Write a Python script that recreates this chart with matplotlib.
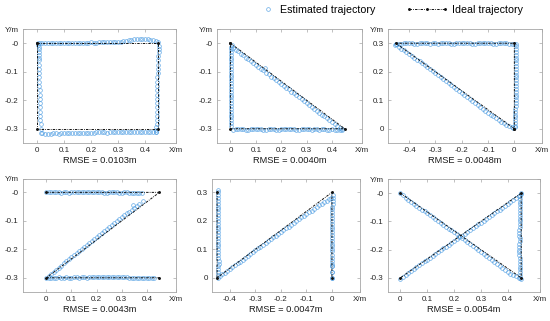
import matplotlib.pyplot as plt
from matplotlib.legend_handler import HandlerLine2D

plt.rcParams["font.family"] = ["Liberation Sans", "DejaVu Sans"]
plt.rcParams["axes.unicode_minus"] = False

# ---- ideal paths (corner points) ----
ideal1_x = [0, 0.45, 0.45, 0, 0]
ideal1_y = [0, 0, -0.3, -0.3, 0]
ideal2_x = [0, 0.45, 0, 0]
ideal2_y = [0, -0.3, -0.3, 0]
ideal3_x = [0, -0.45, 0, 0]
ideal3_y = [0, 0.3, 0.3, 0]
ideal4_x = [0, 0.45, 0, 0.45]
ideal4_y = [0, 0, -0.3, -0.3]
ideal5_x = [-0.45, -0.45, 0, 0]
ideal5_y = [0.3, 0, 0.3, 0]
ideal6_x = [0, 0.45, 0.45, 0]
ideal6_y = [0, -0.3, 0, -0.3]

# ---- estimated trajectories, first pass ----
est1_x = [0.01, 0.03, 0.05, 0.07, 0.09, 0.11, 0.13, 0.15, 0.17, 0.19, 0.21, 0.23, 0.25, 0.27,
          0.29, 0.31, 0.33, 0.35, 0.37, 0.39, 0.41, 0.43, 0.45,
          0.452, 0.451, 0.449, 0.447, 0.446, 0.445, 0.445, 0.444, 0.443, 0.443, 0.442, 0.442,
          0.43, 0.41, 0.39, 0.37, 0.35, 0.33, 0.31, 0.29, 0.27, 0.25, 0.23, 0.21, 0.19, 0.17,
          0.15, 0.13, 0.11, 0.09, 0.07, 0.05, 0.03, 0.015,
          0.013, 0.012, 0.011, 0.010, 0.010, 0.009, 0.009, 0.008, 0.008, 0.007, 0.006, 0.005]
est1_y = [0.0, 0.001, 0.001, 0.002, 0.001, 0.002, 0.001, 0.0, 0.001, 0.002, 0.002, 0.003, 0.004, 0.004,
          0.005, 0.006, 0.009, 0.013, 0.015, 0.016, 0.014, 0.010, 0.004,
          -0.01, -0.03, -0.06, -0.09, -0.12, -0.15, -0.18, -0.21, -0.24, -0.27, -0.295, -0.31,
          -0.311, -0.312, -0.313, -0.312, -0.311, -0.312, -0.312, -0.313, -0.313, -0.313, -0.312, -0.314,
          -0.314, -0.315, -0.315, -0.315, -0.316, -0.316, -0.316, -0.317, -0.317, -0.316,
          -0.3, -0.27, -0.24, -0.21, -0.18, -0.15, -0.12, -0.09, -0.06, -0.04, -0.02, -0.005]

est2_x = [0.005, 0.02, 0.04, 0.06, 0.08, 0.10, 0.12, 0.135, 0.14, 0.16, 0.18, 0.20, 0.22, 0.24,
          0.26, 0.28, 0.30, 0.32, 0.34, 0.36, 0.38, 0.40, 0.42, 0.44,
          0.43, 0.41, 0.39, 0.37, 0.35, 0.33, 0.31, 0.29, 0.27, 0.25, 0.23, 0.21, 0.19, 0.17,
          0.15, 0.13, 0.11, 0.09, 0.07, 0.05, 0.03, 0.01,
          0.003, 0.003, 0.003, 0.002, 0.003, 0.003, 0.002, 0.003, 0.003, 0.002, 0.003, 0.003,
          0.002, 0.003, 0.003]
est2_y = [-0.006, -0.022, -0.036, -0.05, -0.063, -0.077, -0.09, -0.088, -0.103, -0.117, -0.13, -0.143,
          -0.156, -0.17, -0.183, -0.197, -0.21, -0.223, -0.236, -0.25, -0.263, -0.277, -0.29, -0.302,
          -0.306, -0.306, -0.303, -0.302, -0.303, -0.302, -0.302, -0.302, -0.303, -0.302, -0.302,
          -0.302, -0.303, -0.302, -0.302, -0.303, -0.302, -0.302, -0.303, -0.302, -0.302, -0.303,
          -0.29, -0.27, -0.25, -0.23, -0.21, -0.19, -0.17, -0.15, -0.13, -0.11, -0.09, -0.07,
          -0.05, -0.03, -0.012]

est3_x = [-0.45, -0.43, -0.41, -0.39, -0.37, -0.35, -0.33, -0.31, -0.29, -0.27, -0.25, -0.23,
          -0.21, -0.19, -0.17, -0.15, -0.13, -0.11, -0.09, -0.07, -0.05, -0.03, -0.01, 0.005,
          0.007, 0.007, 0.006, 0.006, 0.006, 0.005, 0.006, 0.005, 0.005, 0.006, 0.005, 0.004,
          0.004, 0.003, 0.003,
          -0.455, -0.44, -0.42, -0.40, -0.38, -0.36, -0.34, -0.32, -0.30, -0.28, -0.26, -0.24,
          -0.22, -0.20, -0.18, -0.16, -0.14, -0.12, -0.10, -0.08, -0.06, -0.04, -0.02, -0.005]
est3_y = [0.296, 0.299, 0.3, 0.301, 0.299, 0.3, 0.301, 0.3, 0.299, 0.301, 0.3, 0.299,
          0.3, 0.301, 0.3, 0.299, 0.3, 0.301, 0.3, 0.299, 0.3, 0.3, 0.299, 0.298,
          0.28, 0.26, 0.24, 0.22, 0.2, 0.18, 0.16, 0.14, 0.12, 0.1, 0.08, 0.06,
          0.04, 0.02, 0.005,
          0.295, 0.288, 0.275, 0.262, 0.249, 0.236, 0.222, 0.209, 0.195, 0.182, 0.168, 0.154,
          0.14, 0.126, 0.112, 0.098, 0.084, 0.07, 0.057, 0.044, 0.031, 0.019, 0.009, 0.002]

est4_x = [0.0, 0.02, 0.04, 0.06, 0.08, 0.10, 0.12, 0.14, 0.16, 0.18, 0.20, 0.22, 0.24, 0.26,
          0.28, 0.30, 0.32, 0.34, 0.36, 0.38,
          0.385, 0.37, 0.345, 0.35, 0.33, 0.31, 0.29, 0.27, 0.25, 0.23, 0.21, 0.19, 0.17, 0.15,
          0.13, 0.11, 0.09, 0.07, 0.05, 0.03, 0.01,
          0.0, 0.02, 0.04, 0.06, 0.08, 0.10, 0.12, 0.14, 0.16, 0.18, 0.20, 0.22, 0.24, 0.26,
          0.28, 0.30, 0.32, 0.34, 0.36, 0.38, 0.40, 0.42, 0.43]
est4_y = [0.0, 0.001, 0.0, -0.001, 0.0, 0.0, 0.001, 0.0, 0.001, 0.001, 0.0, 0.0, -0.001, 0.0,
          0.0, -0.001, 0.0, -0.001, -0.002, -0.003,
          -0.032, -0.042, -0.045, -0.055, -0.068, -0.08, -0.094, -0.108, -0.122, -0.136, -0.15,
          -0.164, -0.178, -0.192, -0.206, -0.22, -0.234, -0.249, -0.264, -0.279, -0.293,
          -0.301, -0.3, -0.3, -0.3, -0.299, -0.3, -0.299, -0.299, -0.3, -0.299, -0.298, -0.299,
          -0.299, -0.298, -0.298, -0.297, -0.299, -0.3, -0.301, -0.301, -0.3, -0.3, -0.3]

est5_x = [-0.446, -0.447, -0.447, -0.446, -0.447, -0.446, -0.446, -0.446, -0.447, -0.446,
          -0.446, -0.446, -0.447, -0.443, -0.446, -0.447,
          -0.44, -0.42, -0.40, -0.38, -0.36, -0.34, -0.32, -0.30, -0.28, -0.26, -0.24, -0.22,
          -0.20, -0.18, -0.16, -0.14, -0.12, -0.10, -0.08, -0.06, -0.04, -0.02, -0.005,
          0.003, 0.003, 0.002, 0.002, 0.002, 0.001, 0.002, 0.001, 0.001, 0.0, 0.0, 0.0, 0.0,
          0.0, 0.0, 0.0]
est5_y = [0.31, 0.29, 0.27, 0.25, 0.23, 0.21, 0.19, 0.17, 0.15, 0.13, 0.11, 0.09, 0.07, 0.05,
          0.03, 0.01,
          0.006, 0.018, 0.031, 0.044, 0.057, 0.07, 0.083, 0.096, 0.109, 0.122, 0.135, 0.148,
          0.161, 0.174, 0.187, 0.2, 0.212, 0.224, 0.236, 0.248, 0.26, 0.27, 0.28,
          0.29, 0.27, 0.25, 0.23, 0.21, 0.19, 0.17, 0.15, 0.13, 0.11, 0.095, 0.07, 0.05,
          0.04, 0.02, 0.0]

est6_x = [0.0, 0.02, 0.04, 0.06, 0.08, 0.10, 0.12, 0.14, 0.16, 0.18, 0.20, 0.22, 0.24, 0.26,
          0.28, 0.30, 0.32, 0.34, 0.36, 0.38, 0.40, 0.42, 0.44, 0.45,
          0.446, 0.445, 0.444, 0.444, 0.443, 0.443, 0.444, 0.443, 0.443, 0.444, 0.444, 0.445,
          0.445, 0.446, 0.447, 0.448,
          0.44, 0.42, 0.40, 0.38, 0.36, 0.34, 0.32, 0.30, 0.28, 0.26, 0.24, 0.22, 0.20, 0.18,
          0.16, 0.14, 0.12, 0.10, 0.08, 0.06, 0.04, 0.02, 0.0]
est6_y = [0.0, -0.016, -0.031, -0.045, -0.059, -0.072, -0.086, -0.099, -0.112, -0.126, -0.139,
          -0.153, -0.167, -0.181, -0.196, -0.21, -0.224, -0.238, -0.252, -0.266, -0.279, -0.29,
          -0.3, -0.305,
          -0.29, -0.27, -0.25, -0.23, -0.21, -0.19, -0.17, -0.15, -0.13, -0.11, -0.09, -0.07,
          -0.05, -0.03, -0.01, 0.0,
          -0.009, -0.023, -0.037, -0.051, -0.065, -0.078, -0.092, -0.105, -0.118, -0.131, -0.144,
          -0.157, -0.17, -0.183, -0.196, -0.209, -0.222, -0.235, -0.249, -0.262, -0.276, -0.29,
          -0.304]

# ---- estimated trajectories, second pass ----
est1b_x = [0.02, 0.04, 0.06, 0.08, 0.10, 0.12, 0.14, 0.16, 0.18, 0.20, 0.22, 0.24, 0.26, 0.28,
           0.30, 0.32, 0.34, 0.36, 0.38, 0.40, 0.42, 0.44,
           0.451, 0.45, 0.448, 0.447, 0.446, 0.445, 0.444, 0.444, 0.443, 0.443, 0.442,
           0.44, 0.42, 0.40, 0.38, 0.36, 0.34, 0.32, 0.30, 0.28, 0.26, 0.24, 0.22, 0.20, 0.18,
           0.16, 0.14, 0.12, 0.10, 0.08, 0.06, 0.04, 0.02,
           0.013, 0.012, 0.011, 0.011, 0.010, 0.009, 0.009, 0.008, 0.008, 0.007, 0.006, 0.005]
est1b_y = [0.0, 0.001, 0.001, 0.002, 0.001, 0.0, 0.001, 0.001, 0.002, 0.003, 0.002, 0.003, 0.004,
           0.005, 0.006, 0.007, 0.011, 0.014, 0.016, 0.015, 0.012, 0.008,
           -0.02, -0.045, -0.075, -0.105, -0.135, -0.165, -0.195, -0.225, -0.255, -0.285, -0.305,
           -0.311, -0.312, -0.312, -0.313, -0.312, -0.311, -0.313, -0.312, -0.313, -0.314, -0.313,
           -0.313, -0.314, -0.315, -0.314, -0.316, -0.315, -0.316, -0.317, -0.316, -0.317, -0.316,
           -0.285, -0.255, -0.225, -0.195, -0.165, -0.135, -0.105, -0.075, -0.05, -0.03, -0.012, 0.0]

est2b_x = [0.01, 0.03, 0.05, 0.07, 0.09, 0.11, 0.13, 0.15, 0.17, 0.19, 0.21, 0.23, 0.25, 0.27,
           0.29, 0.31, 0.33, 0.35, 0.37, 0.39, 0.41, 0.43,
           0.44, 0.42, 0.40, 0.38, 0.36, 0.34, 0.32, 0.30, 0.28, 0.26, 0.24, 0.22, 0.20, 0.18,
           0.16, 0.14, 0.12, 0.10, 0.08, 0.06, 0.04, 0.02,
           0.003, 0.003, 0.003, 0.003, 0.003, 0.003, 0.003, 0.003, 0.003, 0.003, 0.003, 0.003,
           0.003, 0.003]
est2b_y = [-0.015, -0.028, -0.042, -0.055, -0.069, -0.082, -0.095, -0.109, -0.122, -0.136, -0.149,
           -0.162, -0.176, -0.189, -0.202, -0.216, -0.229, -0.243, -0.256, -0.269, -0.282, -0.296,
           -0.303, -0.305, -0.302, -0.303, -0.302, -0.302, -0.303, -0.302, -0.302, -0.303, -0.302,
           -0.302, -0.302, -0.303, -0.302, -0.303, -0.302, -0.302, -0.302, -0.303, -0.302, -0.302,
           -0.28, -0.26, -0.24, -0.22, -0.2, -0.18, -0.16, -0.14, -0.12, -0.1, -0.08, -0.06,
           -0.04, -0.02]

est3b_x = [-0.44, -0.42, -0.40, -0.38, -0.36, -0.34, -0.32, -0.30, -0.28, -0.26, -0.24, -0.22,
           -0.20, -0.18, -0.16, -0.14, -0.12, -0.10, -0.08, -0.06, -0.04, -0.02, 0.0,
           0.007, 0.007, 0.006, 0.006, 0.006, 0.006, 0.005, 0.005, 0.005, 0.005, 0.005, 0.004,
           0.004, 0.003, 0.003,
           -0.45, -0.43, -0.41, -0.39, -0.37, -0.35, -0.33, -0.31, -0.29, -0.27, -0.25, -0.23,
           -0.21, -0.19, -0.17, -0.15, -0.13, -0.11, -0.09, -0.07, -0.05, -0.03, -0.01]
est3b_y = [0.298, 0.3, 0.301, 0.299, 0.3, 0.301, 0.299, 0.3, 0.301, 0.3, 0.299, 0.3,
           0.301, 0.3, 0.299, 0.3, 0.3, 0.301, 0.299, 0.3, 0.3, 0.299, 0.299,
           0.29, 0.27, 0.25, 0.23, 0.21, 0.19, 0.17, 0.15, 0.13, 0.11, 0.09, 0.07,
           0.05, 0.03, 0.01,
           0.297, 0.281, 0.268, 0.255, 0.242, 0.229, 0.215, 0.202, 0.188, 0.175, 0.161, 0.147,
           0.133, 0.119, 0.105, 0.091, 0.077, 0.063, 0.05, 0.037, 0.025, 0.014, 0.005]

est4b_x = [0.01, 0.03, 0.05, 0.07, 0.09, 0.11, 0.13, 0.15, 0.17, 0.19, 0.21, 0.23, 0.25, 0.27,
           0.29, 0.31, 0.33, 0.35, 0.37,
           0.36, 0.34, 0.32, 0.30, 0.28, 0.26, 0.24, 0.22, 0.20, 0.18, 0.16, 0.14, 0.12, 0.10,
           0.08, 0.06, 0.04, 0.02,
           0.01, 0.03, 0.05, 0.07, 0.09, 0.11, 0.13, 0.15, 0.17, 0.19, 0.21, 0.23, 0.25, 0.27,
           0.29, 0.31, 0.33, 0.35, 0.37, 0.39, 0.41]
est4b_y = [0.0, 0.0, 0.001, 0.0, -0.001, 0.0, 0.001, 0.0, 0.0, 0.001, 0.0, -0.001, 0.0, 0.0,
           -0.001, 0.0, -0.001, -0.001, -0.002,
           -0.048, -0.061, -0.074, -0.087, -0.101, -0.115, -0.129, -0.143, -0.157, -0.171, -0.185,
           -0.199, -0.213, -0.227, -0.242, -0.257, -0.272, -0.286,
           -0.3, -0.3, -0.299, -0.3, -0.3, -0.299, -0.3, -0.299, -0.299, -0.298, -0.299, -0.298,
           -0.299, -0.298, -0.297, -0.298, -0.3, -0.3, -0.301, -0.3, -0.301]

est5b_x = [-0.446, -0.447, -0.446, -0.447, -0.446, -0.447, -0.446, -0.446, -0.446, -0.447,
           -0.446, -0.446, -0.444, -0.446, -0.447, -0.448,
           -0.43, -0.41, -0.39, -0.37, -0.35, -0.33, -0.31, -0.29, -0.27, -0.25, -0.23, -0.21,
           -0.19, -0.17, -0.15, -0.13, -0.11, -0.09, -0.07, -0.05, -0.03, -0.01,
           0.003, 0.003, 0.002, 0.002, 0.002, 0.001, 0.001, 0.001, 0.0, 0.0, 0.0, 0.0, 0.0,
           0.0, 0.0]
est5b_y = [0.30, 0.28, 0.26, 0.24, 0.22, 0.20, 0.18, 0.16, 0.14, 0.12, 0.10, 0.08, 0.06, 0.04,
           0.02, 0.0,
           0.012, 0.025, 0.038, 0.051, 0.064, 0.077, 0.09, 0.103, 0.116, 0.129, 0.142, 0.155,
           0.168, 0.18, 0.193, 0.206, 0.218, 0.23, 0.242, 0.254, 0.265, 0.276,
           0.28, 0.26, 0.24, 0.22, 0.2, 0.18, 0.16, 0.14, 0.12, 0.1, 0.08, 0.06, 0.04,
           0.02, 0.0]

est6b_x = [0.01, 0.03, 0.05, 0.07, 0.09, 0.11, 0.13, 0.15, 0.17, 0.19, 0.21, 0.23, 0.25, 0.27,
           0.29, 0.31, 0.33, 0.35, 0.37, 0.39, 0.41, 0.43,
           0.447, 0.446, 0.445, 0.444, 0.443, 0.443, 0.443, 0.444, 0.443, 0.444, 0.444, 0.444,
           0.445, 0.446, 0.447,
           0.45, 0.43, 0.41, 0.39, 0.37, 0.35, 0.33, 0.31, 0.29, 0.27, 0.25, 0.23, 0.21, 0.19,
           0.17, 0.15, 0.13, 0.11, 0.09, 0.07, 0.05, 0.03, 0.01]
est6b_y = [-0.008, -0.023, -0.038, -0.052, -0.065, -0.079, -0.092, -0.106, -0.119, -0.132, -0.146,
           -0.16, -0.174, -0.188, -0.203, -0.217, -0.231, -0.245, -0.259, -0.273, -0.285, -0.295,
           -0.3, -0.28, -0.26, -0.24, -0.22, -0.2, -0.18, -0.16, -0.14, -0.12, -0.1, -0.08,
           -0.06, -0.04, -0.02,
           -0.002, -0.016, -0.03, -0.044, -0.058, -0.071, -0.085, -0.098, -0.111, -0.124, -0.137,
           -0.15, -0.163, -0.176, -0.19, -0.203, -0.216, -0.229, -0.242, -0.256, -0.269, -0.283,
           -0.297]

rmse = ["0.0103m", "0.0040m", "0.0048m", "0.0043m", "0.0047m", "0.0054m"]

pos_xticks = [0, 0.1, 0.2, 0.3, 0.4]
neg_xticks = [-0.4, -0.3, -0.2, -0.1, 0]
neg_yticks = [-0.3, -0.2, -0.1, 0]
pos_yticks = [0, 0.1, 0.2, 0.3]

panels = [
    (ideal1_x, ideal1_y, est1_x + est1b_x, est1_y + est1b_y, (-0.052, 0.515), (-0.35, 0.05), pos_xticks, neg_yticks, True),
    (ideal2_x, ideal2_y, est2_x + est2b_x, est2_y + est2b_y, (-0.053, 0.518), (-0.35, 0.05), pos_xticks, neg_yticks, True),
    (ideal3_x, ideal3_y, est3_x + est3b_x, est3_y + est3b_y, (-0.48, 0.105), (-0.05, 0.35), neg_xticks, pos_yticks, True),
    (ideal4_x, ideal4_y, est4_x + est4b_x, est4_y + est4b_y, (-0.093, 0.516), (-0.35, 0.047), pos_xticks, neg_yticks, True),
    (ideal5_x, ideal5_y, est5_x + est5b_x, est5_y + est5b_y, (-0.47, 0.11), (-0.05, 0.347), neg_xticks, pos_yticks, False),
    (ideal6_x, ideal6_y, est6_x + est6b_x, est6_y + est6b_y, (-0.046, 0.52), (-0.35, 0.05), pos_xticks, neg_yticks, True),
]

# axes boxes in pixels (left, top, right, bottom) of a 550x321 image
boxes = [(23, 29, 176, 143), (217, 29, 362, 143), (388, 29, 542, 143),
         (23, 179, 176, 292), (212, 179, 360, 292), (388, 179, 540, 292)]

W, H = 550, 321
fig = plt.figure(figsize=(5.5, 3.21), dpi=100)

est_color = "#4f9ee3"
gray = "#a6a6a6"


def fmt(v):
    if v == 0:
        return "0"
    return "%.1f" % v


for i, (ix, iy, ex, ey, xl, yl, xt, yt, ylab) in enumerate(panels):
    l, t, r, b = boxes[i]
    ax = fig.add_axes([l / W, (H - b) / H, (r - l) / W, (b - t) / H])
    ax.plot(ex, ey, "o", ms=2.7, mfc="none", mec=est_color, mew=0.55, alpha=0.8,
            label="Estimated trajectory")
    ax.plot(ix, iy, color="#111111", lw=0.7, ls=(0, (2.5, 1.2, 0.8, 1.2)), marker=".", ms=2.2,
            label="Ideal trajectory")
    ax.set_xlim(xl)
    ax.set_ylim(yl)
    ax.set_xticks(xt + [xl[1]])
    ax.set_xticklabels([fmt(v) for v in xt] + ["X/m"])
    ylabels = [("-0" if (v == 0 and yl[0] < -0.1) else fmt(v)) for v in yt]
    if ylab:
        ax.set_yticks(yt + [yl[1]])
        ax.set_yticklabels(ylabels + ["Y/m"])
    else:
        ax.set_yticks(yt)
        ax.set_yticklabels(ylabels)
    ax.tick_params(direction="in", length=2, width=0.5, color=gray, labelsize=5.8,
                   labelcolor="#262626", top=True, right=True, pad=3)
    for s in ax.spines.values():
        s.set_color(gray)
        s.set_linewidth(0.6)
    ax.set_xlabel("RMSE = " + rmse[i], fontsize=6.7, color="#1a1a1a", labelpad=1)
    if i == 0:
        handles, labels = ax.get_legend_handles_labels()

leg1 = fig.legend([handles[0]], [labels[0]], loc="center left", bbox_to_anchor=(253 / W, 0.969),
                  frameon=False, fontsize=7.7, handlelength=1.0, handletextpad=0.6,
                  handler_map={handles[0]: HandlerLine2D(numpoints=1)})
leg2 = fig.legend([handles[1]], [labels[1]], loc="center left", bbox_to_anchor=(396 / W, 0.969),
                  frameon=False, fontsize=7.7, handlelength=4.0, handletextpad=0.3,
                  handler_map={handles[1]: HandlerLine2D(numpoints=3)})

fig.savefig("out.png", dpi=100)
